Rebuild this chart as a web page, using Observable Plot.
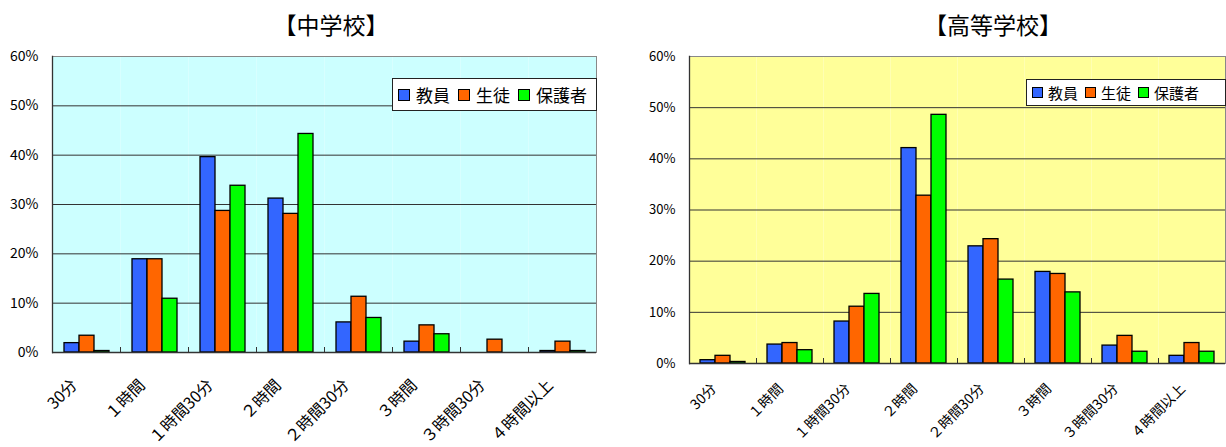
<!DOCTYPE html>
<html><head><meta charset="utf-8">
<script src="https://cdn.jsdelivr.net/npm/d3@7"></script>
<script src="https://cdn.jsdelivr.net/npm/@observablehq/plot@0.6"></script>
<style>
body{margin:0;background:#fff;font-family:"Noto Sans CJK JP","Noto Sans",sans-serif;}
#wrap{position:relative;width:1226px;height:447px;overflow:hidden;background:#fff}
.panel{position:absolute;top:0;height:447px}
.panel svg{position:absolute;top:40px;left:0;overflow:visible}
.title{position:absolute;top:0;height:40px;line-height:48px;font-size:23px;color:#000;white-space:nowrap;transform:translateX(-50%)}
.legend{position:absolute;background:#fff;border:1px solid #222;display:flex;align-items:center;box-sizing:border-box;color:#000;white-space:nowrap}
.legend .sw{display:inline-block;border:1.5px solid #000;box-sizing:border-box}
#p1 [aria-label="y-axis tick label"] text{font-size:14px}
#p2 [aria-label="y-axis tick label"] text{font-size:13px}
</style></head>
<body><div id="wrap"></div>
<script>
const categories = ["30分","１時間","１時間30分","２時間","２時間30分","３時間","３時間30分","４時間以上"];
const series = ["教員","生徒","保護者"];
const colors = ["#3366FF","#FF6600","#00FF00"];
const yTicks = [0,10,20,30,40,50,60];
const titles = ["【中学校】","【高等学校】"];
// 中学校
const juniorTeacher = [1.9,18.9,39.6,31.2,6.1,2.2,0,0.3];
const juniorStudent = [3.4,18.9,28.7,28.1,11.3,5.5,2.6,2.2];
const juniorParent  = [0.3,10.9,33.8,44.3,7.0,3.7,0,0.3];
// 高等学校
const highTeacher = [0.65,3.7,8.2,42.1,22.9,17.9,3.5,1.5];
const highStudent = [1.5,4.0,11.1,32.8,24.3,17.5,5.4,4.0];
const highParent  = [0.3,2.6,13.6,48.6,16.4,13.9,2.3,2.3];

function rows(lists){
  return categories.flatMap((c,i)=>series.map((s,j)=>({category:c, series:s, value:lists[j][i]})));
}

function chart(o){
  const plotH = 407 - o.mT - o.mB;
  return Plot.plot({
    width:o.width, height:407,
    marginLeft:o.mL, marginRight:o.mR, marginTop:o.mT, marginBottom:o.mB,
    style:{fontFamily:'"Noto Sans CJK JP","Noto Sans",sans-serif', background:"transparent", color:"#000"},
    fx:{domain:categories, padding:0, label:null},
    x:{domain:series, paddingInner:0, paddingOuter:o.padOuter, axis:null},
    y:{domain:[0,60], ticks:yTicks, tickFormat:d=>d+"%", tickSize:0, tickPadding:14, label:null},
    color:{domain:series, range:colors},
    marks:[
      Plot.frame({fill:o.bg}),
      Plot.ruleY(yTicks.slice(1,-1), {stroke:"#333", strokeWidth:1}),
      Plot.frame({anchor:"left", insetTop:plotH-5, stroke:"#333"}),
      Plot.barY(o.data, {fx:"category", x:"series", y:"value", fill:"series", stroke:"#000", strokeWidth:1.3}),
      Plot.ruleY([60], {stroke:"#888"}),
      Plot.frame({facet:"super", stroke:"#888"}),
      Plot.frame({facet:"super", anchor:"left", stroke:"#333", strokeWidth:1.3}),
      Plot.ruleY([0], {stroke:"#333", strokeWidth:1.5}),
      Plot.axisFx({anchor:"bottom", label:null, tickRotate:-45, tickSize:0, tickPadding:o.xPad, dx:o.xdx, dy:o.xdy, fontSize:o.xfs})
    ]
  });
}

function legend(o){
  const d = document.createElement("div");
  d.className = "legend";
  Object.assign(d.style,{left:o.x+"px", top:o.y+"px", width:o.w+"px", height:o.h+"px", fontSize:o.fs+"px", paddingLeft:o.pl+"px"});
  series.forEach((s,i)=>{
    const sw = document.createElement("span");
    sw.className="sw";
    Object.assign(sw.style,{width:o.sw+"px", height:o.sw+"px", background:colors[i], marginRight:o.gap+"px", marginLeft:(i? o.gap2:0)+"px"});
    const t = document.createElement("span");
    t.textContent = s;
    d.appendChild(sw); d.appendChild(t);
  });
  return d;
}

const wrap = document.getElementById("wrap");
const cfgs = [
  {id:"p1", left:0, width:620, mL:52, mR:24, mT:16, mB:95, bg:"#CCFFFF", padOuter:0.75, xPad:20, xdx:-12, xdy:10, xfs:16,
   data:rows([juniorTeacher,juniorStudent,juniorParent]), titleX:331,
   leg:{x:392,y:78,w:205,h:33,fs:17,pl:5,sw:12,gap:6,gap2:8}},
  {id:"p2", left:620, width:606, mL:68, mR:1, mT:16, mB:84, bg:"#FFFF99", padOuter:0.7, xPad:18, xdx:-9, xdy:5, xfs:14,
   data:rows([highTeacher,highStudent,highParent]), titleX:373,
   leg:{x:406,y:79,w:200,h:27,fs:15,pl:5,sw:11,gap:5,gap2:7}}
];
cfgs.forEach((c,k)=>{
  const p = document.createElement("div");
  p.className="panel"; p.id=c.id;
  p.style.left=c.left+"px"; p.style.width=c.width+"px";
  const t = document.createElement("div");
  t.className="title"; t.textContent=titles[k]; t.style.left=c.titleX+"px";
  p.appendChild(t);
  p.appendChild(chart(c));
  p.appendChild(legend(c.leg));
  wrap.appendChild(p);
});
</script></body></html>
